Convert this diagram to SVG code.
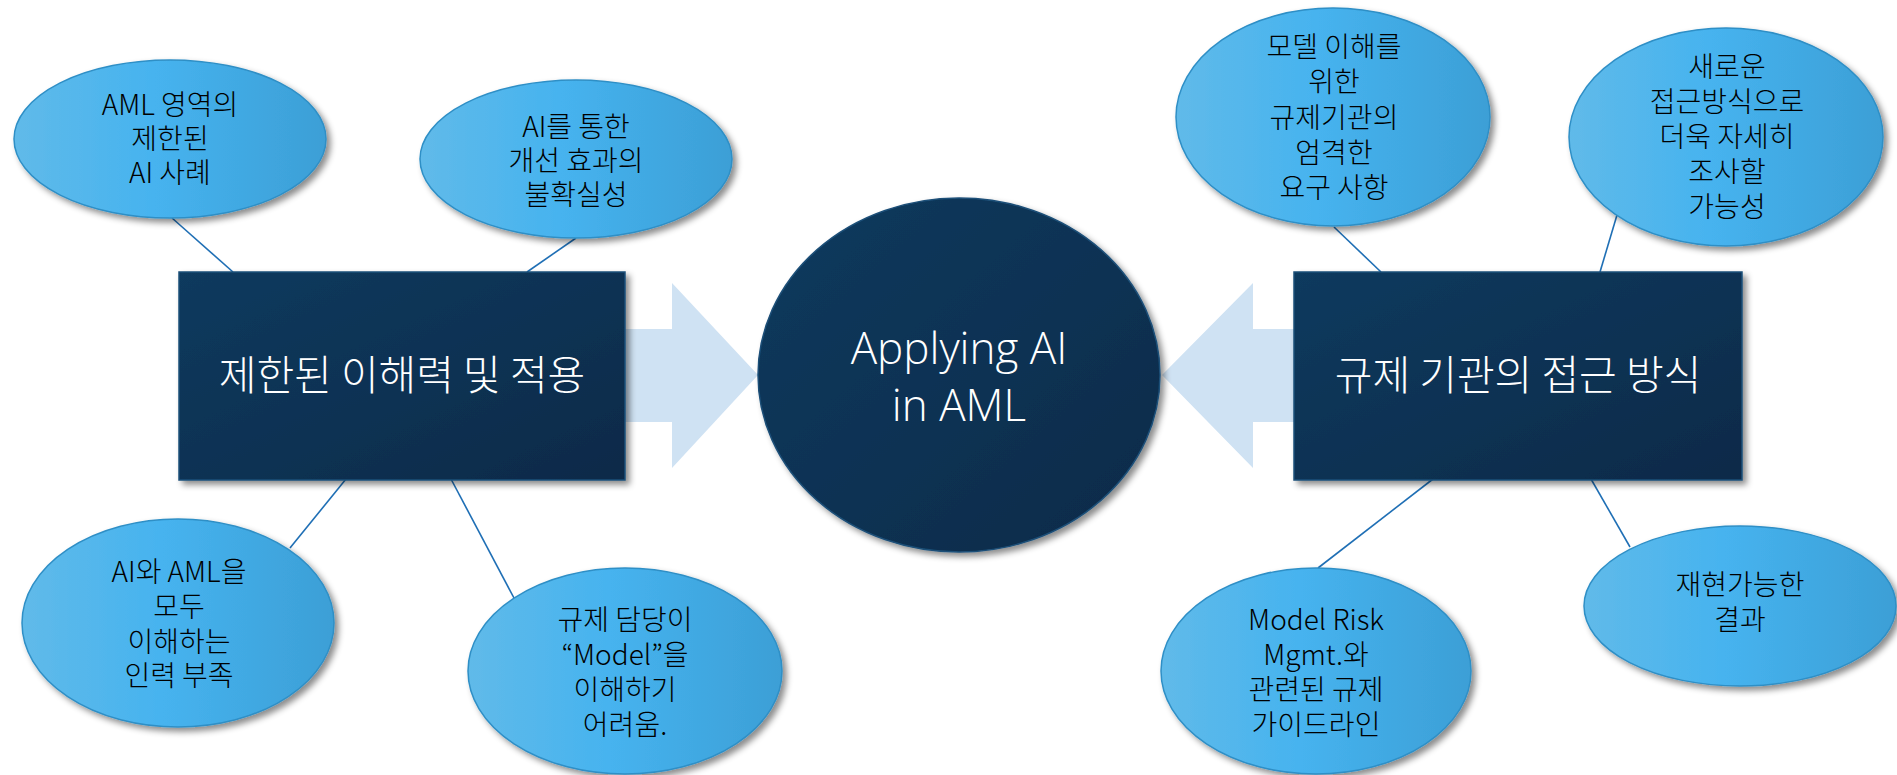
<svg xmlns="http://www.w3.org/2000/svg" width="1897" height="775" viewBox="0 0 1897 775">
<defs>
<linearGradient id="gBlue" x1="0" y1="0" x2="1" y2="0">
<stop offset="0" stop-color="#60bae9"/>
<stop offset="0.45" stop-color="#46b3ef"/>
<stop offset="1" stop-color="#3c9fd6"/>
</linearGradient>
<linearGradient id="gNavy" x1="0" y1="0" x2="1" y2="1">
<stop offset="0" stop-color="#0c3a5e"/>
<stop offset="1" stop-color="#082a49"/>
</linearGradient>
<filter id="sh" x="-10%" y="-10%" width="125%" height="125%">
<feDropShadow dx="4" dy="4" stdDeviation="3" flood-color="#000" flood-opacity="0.45"/>
</filter>
<style>
.bub{fill:url(#gBlue);stroke:#2f8fc6;stroke-width:1.5;filter:url(#sh)}
.navy{fill:url(#gNavy);stroke:#1d4f78;stroke-width:1.5;filter:url(#sh)}
.arrow{fill:#cfe2f3}
.con{stroke:#1f6fb5;stroke-width:1.6;fill:none}
.bt{font-family:"Noto Sans CJK KR","Noto Sans",sans-serif;font-size:28px;fill:#000;text-anchor:middle;font-weight:300}
.rt{font-family:"Noto Sans CJK KR","Noto Sans",sans-serif;font-size:41px;fill:#fff;text-anchor:middle;font-weight:300}
.ct{font-family:"Open Sans","Noto Sans",sans-serif;font-size:44px;fill:#fff;text-anchor:middle;font-weight:300}
</style>
</defs>
<rect width="1897" height="775" fill="#fff"/>
<g id="arrows">
<polygon class="arrow" points="600,329 672,329 672,283 758,375 672,468 672,422 600,422"/>
<polygon class="arrow" points="1300,329 1253,329 1253,283 1162,375 1253,468 1253,422 1300,422"/>
</g>
<g id="connectors">
<line class="con" x1="172" y1="218" x2="233" y2="272"/>
<line class="con" x1="576" y1="238" x2="527" y2="272"/>
<line class="con" x1="1334" y1="227" x2="1381" y2="272"/>
<line class="con" x1="1617" y1="215" x2="1600" y2="272"/>
<line class="con" x1="346" y1="479" x2="290" y2="548"/>
<line class="con" x1="451" y1="479" x2="514" y2="598"/>
<line class="con" x1="1433" y1="479" x2="1318" y2="568"/>
<line class="con" x1="1591" y1="479" x2="1630" y2="547"/>
</g>
<g id="center">
<ellipse class="navy" cx="959" cy="375" rx="201" ry="177"/>
<text class="ct" x="959" y="364">Applying AI</text>
<text class="ct" x="959" y="421">in AML</text>
</g>
<g id="left-box">
<rect class="navy" x="179" y="272" width="446" height="208"/>
<text class="rt" x="402" y="390">제한된 이해력 및 적용</text>
</g>
<g id="right-box">
<rect class="navy" x="1294" y="272" width="448" height="208"/>
<text class="rt" x="1518" y="390">규제 기관의 접근 방식</text>
</g>
<g id="n1">
<ellipse class="bub" cx="170" cy="139" rx="156" ry="79"/>
<text class="bt"><tspan x="170" y="115">AML 영역의</tspan><tspan x="170" y="149">제한된</tspan><tspan x="170" y="183">AI 사례</tspan></text>
</g>
<g id="n2">
<ellipse class="bub" cx="576" cy="159" rx="156" ry="79"/>
<text class="bt"><tspan x="576" y="137">AI를 통한</tspan><tspan x="576" y="171">개선 효과의</tspan><tspan x="576" y="205">불확실성</tspan></text>
</g>
<g id="n3">
<ellipse class="bub" cx="1333" cy="117" rx="157" ry="109"/>
<text class="bt"><tspan x="1334" y="57">모델 이해를</tspan><tspan x="1334" y="92">위한</tspan><tspan x="1334" y="128">규제기관의</tspan><tspan x="1334" y="163">엄격한</tspan><tspan x="1334" y="198">요구 사항</tspan></text>
</g>
<g id="n4">
<ellipse class="bub" cx="1726" cy="137" rx="157" ry="109"/>
<text class="bt"><tspan x="1727" y="77">새로운</tspan><tspan x="1727" y="112">접근방식으로</tspan><tspan x="1727" y="147">더욱 자세히</tspan><tspan x="1727" y="182">조사할</tspan><tspan x="1727" y="217">가능성</tspan></text>
</g>
<g id="n5">
<ellipse class="bub" cx="178" cy="623" rx="156" ry="104"/>
<text class="bt"><tspan x="179" y="582">AI와 AML을</tspan><tspan x="179" y="617">모두</tspan><tspan x="179" y="652">이해하는</tspan><tspan x="179" y="686">인력 부족</tspan></text>
</g>
<g id="n6">
<ellipse class="bub" cx="625" cy="671" rx="157" ry="103"/>
<text class="bt"><tspan x="625" y="630">규제 담당이</tspan><tspan x="625" y="665">“Model”을</tspan><tspan x="625" y="700">이해하기</tspan><tspan x="625" y="735">어려움.</tspan></text>
</g>
<g id="n7">
<ellipse class="bub" cx="1316" cy="671" rx="155" ry="103"/>
<text class="bt"><tspan x="1316" y="630">Model Risk</tspan><tspan x="1316" y="665">Mgmt.와</tspan><tspan x="1316" y="700">관련된 규제</tspan><tspan x="1316" y="735">가이드라인</tspan></text>
</g>
<g id="n8">
<ellipse class="bub" cx="1740" cy="606" rx="156" ry="80"/>
<text class="bt"><tspan x="1740" y="595">재현가능한</tspan><tspan x="1740" y="630">결과</tspan></text>
</g>
</svg>
